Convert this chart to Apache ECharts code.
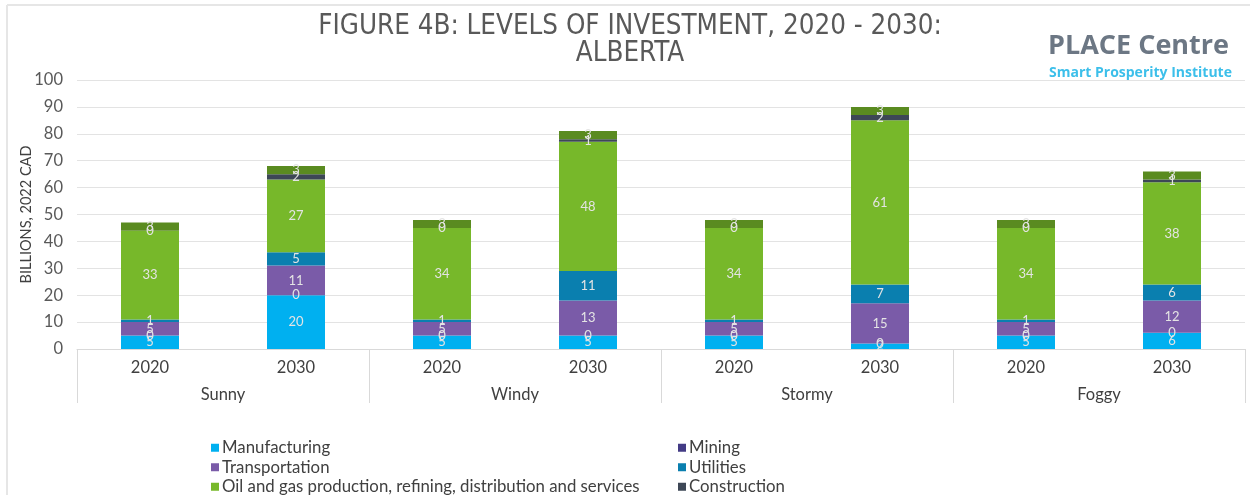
<!DOCTYPE html>
<html>
<head>
<meta charset="utf-8">
<script src="https://cdn.jsdelivr.net/npm/echarts@6/dist/echarts.min.js"></script>
<style>
  html, body { margin: 0; padding: 0; background: #fff; }
  #chart { width: 1250px; height: 495px; }
</style>
</head>
<body>
<div id="chart"></div>
<script>
// Scenario groups and the two years shown in each
const scenarios = ['Sunny', 'Windy', 'Stormy', 'Foggy'];
const years = ['2020', '2030', '2020', '2030', '2020', '2030', '2020', '2030'];
const yTicks = [0, 10, 20, 30, 40, 50, 60, 70, 80, 90, 100];

// Investment by sector, billions of 2022 CAD (Sunny 2020, Sunny 2030, Windy 2020, ...)
const manufacturing  = [5, 20, 5, 5, 5, 2, 5, 6];
const mining         = [0, 0, 0, 0, 0, 0, 0, 0];
const transportation = [5, 11, 5, 13, 5, 15, 5, 12];
const utilities      = [1, 5, 1, 11, 1, 7, 1, 6];
const oilAndGas      = [33, 27, 34, 48, 34, 61, 34, 38];
const construction   = [0, 2, 0, 1, 0, 2, 0, 1];
const other          = [3, 3, 3, 3, 3, 3, 3, 3];

const sectors = [
  { name: 'Manufacturing', data: manufacturing, color: '#00B0F0' },
  { name: 'Mining', data: mining, color: '#433B85' },
  { name: 'Transportation', data: transportation, color: '#7A5BA8' },
  { name: 'Utilities', data: utilities, color: '#0A7FAF' },
  { name: 'Oil and gas production, refining, distribution and services', data: oilAndGas, color: '#77B82A' },
  { name: 'Construction', data: construction, color: '#3D4756' },
  { name: 'Other', data: other, color: '#5A8B20' }
];

const textFont = 'Lato, "Noto Sans", sans-serif';

const legendBase = {
  orient: 'vertical', top: 439, height: 80, padding: 0, itemGap: 2,
  icon: 'rect', itemWidth: 8, itemHeight: 8,
  textStyle: { fontFamily: textFont, fontSize: 16.8, color: '#404040', lineHeight: 17.5, padding: [0, 0, 0, -2] },
  selectedMode: false
};

const chart = echarts.init(document.getElementById('chart'), null, { renderer: 'canvas' });

chart.setOption({
  animation: false,
  backgroundColor: '#ffffff',
  title: {
    text: 'FIGURE 4B: LEVELS OF INVESTMENT, 2020 - 2030:\nALBERTA',
    left: 630,
    top: 13,
    padding: 0,
    textAlign: 'center',
    textStyle: {
      fontFamily: '"Liberation Sans Narrow", "DejaVu Sans Condensed", sans-serif',
      fontWeight: 'normal',
      fontSize: 27.5,
      lineHeight: 27,
      color: '#595959'
    }
  },
  graphic: [
    { type: 'line', shape: { x1: 7, y1: 5, x2: 1250, y2: 5 }, style: { stroke: '#e6e6e6', lineWidth: 2 } },
    { type: 'line', shape: { x1: 7, y1: 5, x2: 7, y2: 495 }, style: { stroke: '#e6e6e6', lineWidth: 2 } },
    { type: 'line', shape: { x1: 1000, y1: 80.5, x2: 1245, y2: 80.5 }, style: { stroke: '#d9d9d9', lineWidth: 1 } },
    {
      type: 'text', left: 1048, top: 33,
      style: { text: 'PLACE Centre', fontFamily: '"Open Sans", sans-serif', fontWeight: 'bold', fontSize: 27, fill: '#6C7784' }
    },
    {
      type: 'text', left: 1049, top: 66,
      style: { text: 'Smart Prosperity Institute', fontFamily: '"Open Sans", sans-serif', fontWeight: 'bold', fontSize: 14, fill: '#3CBFEA' }
    }
  ],
  legend: [
    Object.assign({}, legendBase, { data: [sectors[0].name, sectors[2].name, sectors[4].name], left: 211 }),
    Object.assign({}, legendBase, { data: [sectors[1].name, sectors[3].name, sectors[5].name], left: 678 })
  ],
  grid: { left: 77, right: 5, top: 80, bottom: 146, containLabel: false },
  xAxis: [
    {
      type: 'category',
      data: years,
      position: 'bottom',
      axisLine: { show: true, lineStyle: { color: '#d9d9d9', width: 1 } },
      axisTick: { show: false },
      axisLabel: { fontFamily: textFont, fontSize: 16.5, color: '#404040', margin: 10 }
    },
    {
      type: 'category',
      data: scenarios,
      position: 'bottom',
      axisLine: { show: false },
      axisTick: { show: true, length: 54, interval: 0, lineStyle: { color: '#d9d9d9', width: 1 } },
      axisLabel: { fontFamily: textFont, fontSize: 16.5, color: '#404040', margin: 37 }
    }
  ],
  yAxis: {
    type: 'value',
    min: yTicks[0],
    max: yTicks[yTicks.length - 1],
    interval: 10,
    name: 'BILLIONS, 2022 CAD',
    nameLocation: 'middle',
    nameRotate: 90,
    nameGap: 43,
    nameMoveOverlap: false,
    nameTextStyle: { fontFamily: textFont, fontSize: 14.5, color: '#404040' },
    axisLine: { show: false },
    axisTick: { show: false },
    axisLabel: { fontFamily: textFont, fontSize: 16.5, color: '#595959', margin: 14 },
    splitLine: { lineStyle: { color: '#e3e3e3', width: 1 } }
  },
  series: sectors.map(s => ({
    name: s.name,
    type: 'bar',
    stack: 'total',
    xAxisIndex: 0,
    barWidth: 58,
    data: s.data,
    itemStyle: { color: s.color },
    label: {
      show: true,
      position: 'inside',
      fontFamily: textFont,
      fontSize: 13,
      color: '#e4e4e4'
    }
  }))
});
</script>
</body>
</html>
